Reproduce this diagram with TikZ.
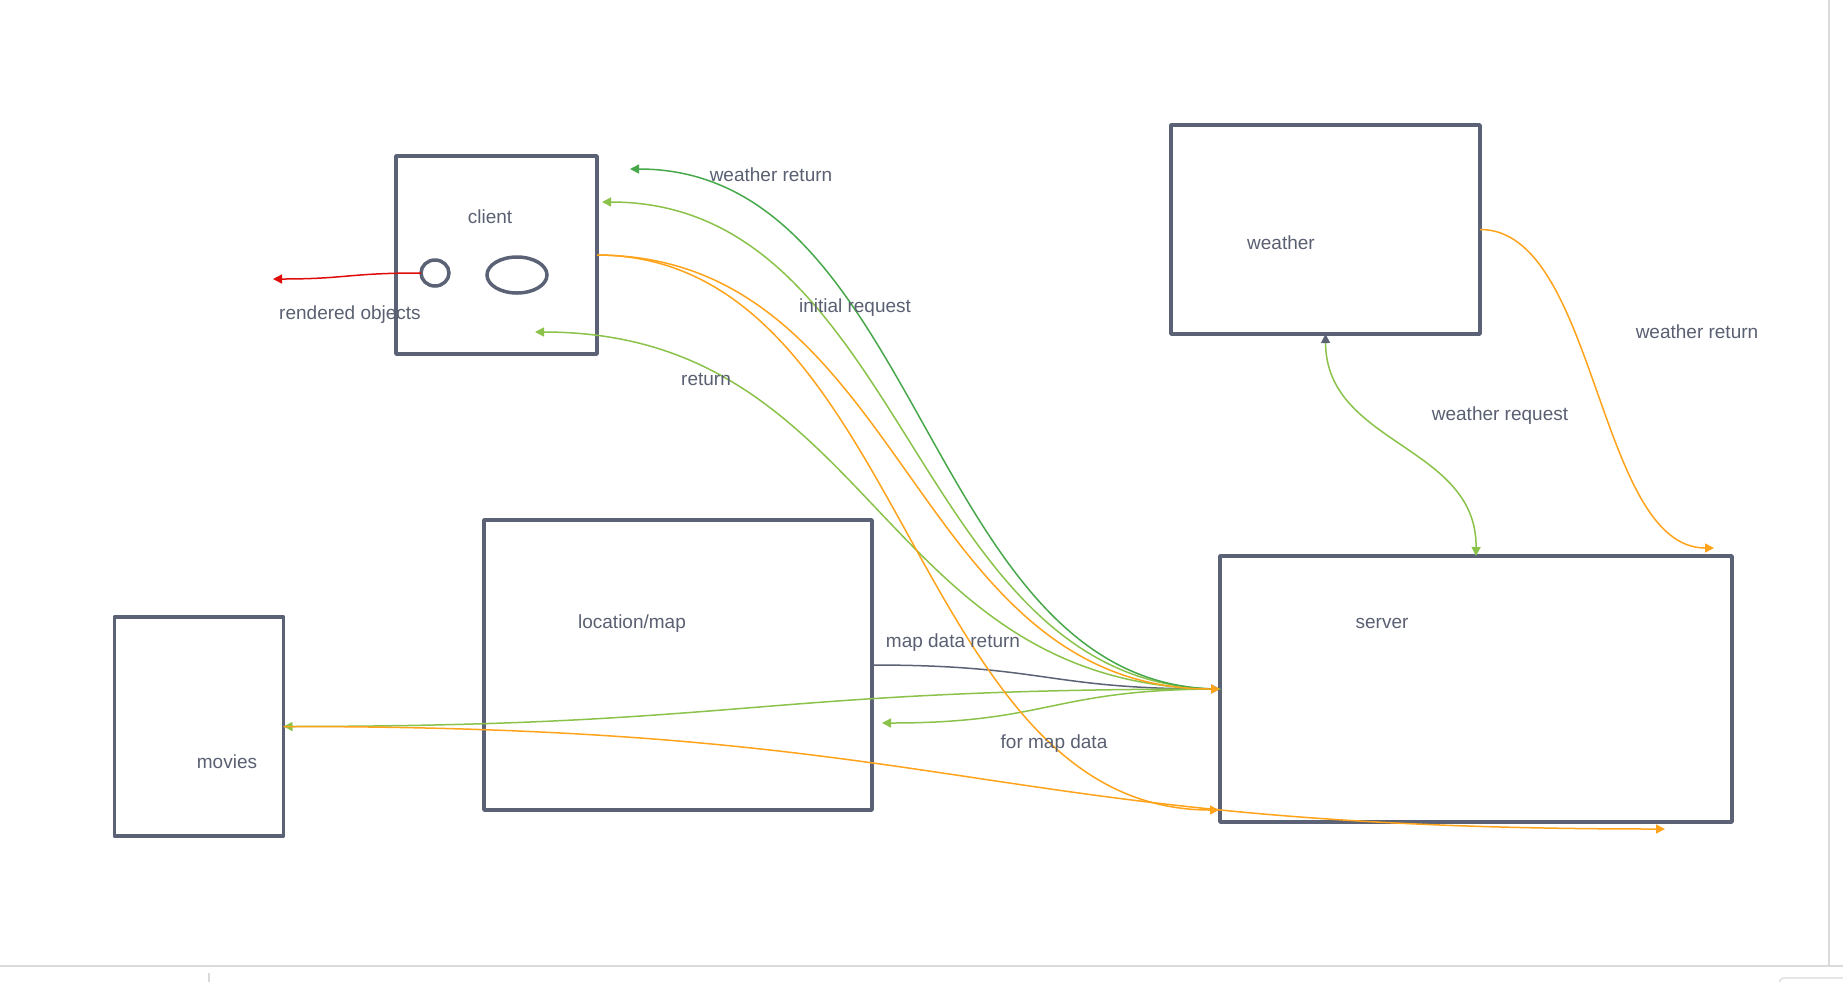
\documentclass[tikz,border=0pt]{standalone}
\usepackage{fontspec}
\setmainfont{Liberation Sans}
\usetikzlibrary{arrows.meta,shapes.geometric}
\definecolor{boxc}{HTML}{5B6275}
\definecolor{txtc}{HTML}{5A6072}
\definecolor{dkgreen}{HTML}{47A84B}
\definecolor{ltgreen}{HTML}{8BC34A}
\definecolor{orng}{HTML}{FFA31A}
\definecolor{redc}{HTML}{E00B0B}
\definecolor{framec}{HTML}{DADADA}
\tikzset{
  box/.style={draw=boxc, line width=1.75pt, line join=round, rectangle, outer sep=0pt, inner sep=0pt},
  lbl/.style={text=txtc, font=\fontsize{9.5}{11}\selectfont, inner sep=0pt, anchor=center, yshift=-1pt},
  tipA/.style={-{Triangle[length=4.5pt,width=4.5pt]}},
  con/.style={line width=0.75pt},
}
\begin{document}
\begin{tikzpicture}[x=0.5pt,y=-0.5pt]
\useasboundingbox (0,0) rectangle (1843,982);
\fill[white] (0,0) rectangle (1843,982);
% frame artefacts
\draw[framec, line width=0.6pt] (1829,0) -- (1829,966);
\draw[framec, line width=0.6pt] (0,966) -- (1843,966);
\draw[framec, line width=0.6pt] (209,973) -- (209,982);
\draw[framec, line width=0.6pt] (1780,982) -- (1780,980) -- (1783,978) -- (1843,978);

% boxes (sizes in pt = half of pixels)
\node[box, minimum width=100.5pt, minimum height=99pt] (client) at (496.5,255) {};
\node[box, minimum width=154.5pt, minimum height=104.5pt] (weather) at (1325.5,229.5) {};
\node[box, minimum width=194pt, minimum height=145pt] (locmap) at (678,665) {};
\node[box, minimum width=84.5pt, minimum height=109.5pt] (movies) at (199,726.5) {};
\node[box, minimum width=256pt, minimum height=133pt] (server) at (1476,689) {};

% client inner shapes
\node[draw=boxc, line width=1.75pt, ellipse, minimum width=14pt, minimum height=13pt, inner sep=0pt, outer sep=0pt] (dot) at (435,273) {};
\node[draw=boxc, line width=1.75pt, ellipse, minimum width=30pt, minimum height=18pt, inner sep=0pt, outer sep=0pt] (oval) at (517,275) {};

% box labels
\node[lbl] (tclient) at (490,215) {client};
\node[lbl] (tweather) at (1281,241) {weather};
\node[lbl] (tlocmap) at (632,622) {location/map};
\node[lbl] (tmovies) at (227,760) {movies};
\node[lbl] (tserver) at (1382,621) {server};

% free ends
\coordinate (WR) at (630,169);
\coordinate (IR) at (602,202);
\coordinate (RT) at (535,332);
\coordinate (FM) at (882,723);
\coordinate (SB) at (1219,810);
\coordinate (MV) at (1665,829);
\coordinate (WT) at (1714,548);
\coordinate (RO) at (273,279);

% connectors
\draw[con, boxc, tipA] (locmap.east) .. controls (1046,665) and (1046,689) .. (server.west);
\draw[con, ltgreen, tipA] (server.west) .. controls (751,689) and (751,726) .. (movies.east);
\draw[con, ltgreen, tipA] (server.west) .. controls (1051,689) and (1051,723) .. (FM);
\draw[con, ltgreen, tipA] (server.west) .. controls (877,689) and (877,332) .. (RT);
\draw[con, ltgreen, tipA] (server.west) .. controls (911,689) and (911,202) .. (IR);
\draw[con, dkgreen, tipA] (server.west) .. controls (925,689) and (925,169) .. (WR);
\draw[con, orng, tipA] (movies.east) .. controls (974,726) and (974,829) .. (MV);
\draw[con, orng, tipA] (client.east) .. controls (908,256) and (908,810) .. (SB);
\draw[con, orng, tipA] (client.east) .. controls (908,256) and (908,689) .. (server.west);
\draw[con, orng, tipA] (weather.east) .. controls (1597,229) and (1597,548) .. (WT);
\draw[con, ltgreen, {Triangle[length=4.5pt,width=4.5pt,color=boxc]}-{Triangle[length=4.5pt,width=4.5pt]}] (weather.south) .. controls (1326,445) and (1477,445) .. (server.north);
\draw[con, redc, tipA] (dot.west) .. controls (347,273) and (347,279) .. (RO);

% connector labels
\node[lbl] (lwr1) at (771,173) {weather return};
\node[lbl] (lir) at (855,306) {initial request};
\node[lbl] (lrt) at (706,377) {return};
\node[lbl] (lro) at (350,313) {rendered objects};
\node[lbl] (lwq) at (1500,414) {weather request};
\node[lbl] (lwr2) at (1697,330) {weather return};
\node[lbl] (lmdr) at (953,641) {map data return};
\node[lbl] (lfmd) at (1054,742) {for map data};
\end{tikzpicture}
\end{document}
